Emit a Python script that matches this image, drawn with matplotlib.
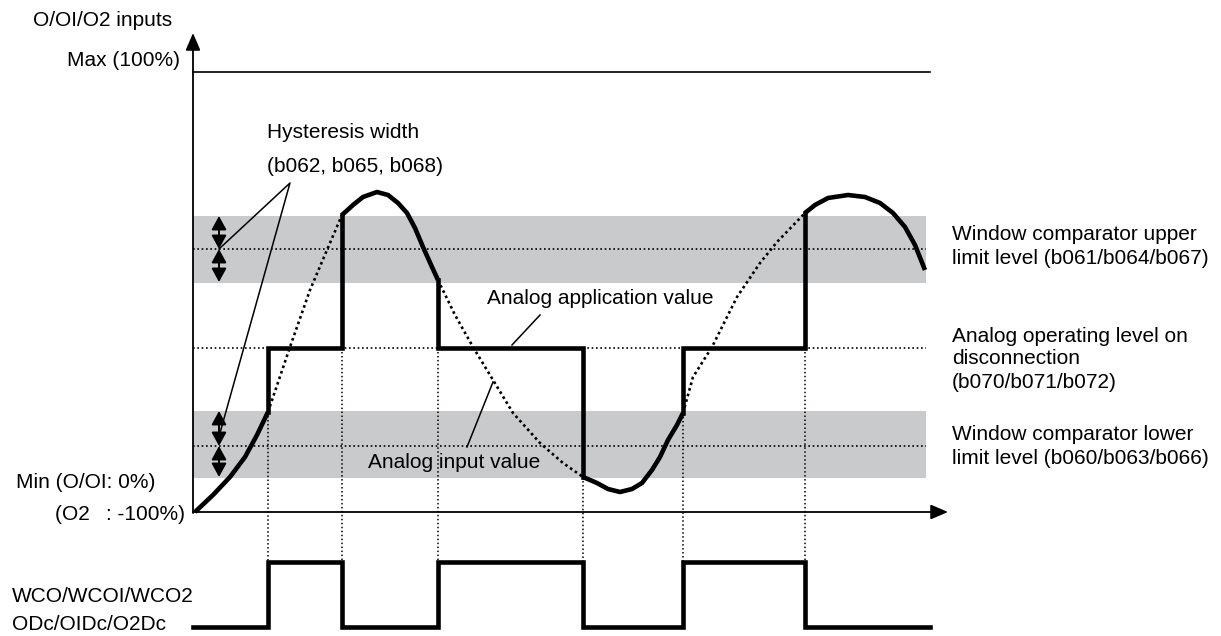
import numpy as np
import matplotlib
matplotlib.use('Agg')
from matplotlib import pyplot as plt

plt.rcParams['font.family'] = ['Liberation Sans', 'DejaVu Sans']

# 그림 좌표 = 픽셀 좌표 (y 아래로 증가)
# analog input value
input_x = [195, 213, 230, 245, 257, 268, 290, 310, 327, 342, 353, 363, 377, 388, 398, 407,
           415, 423, 432, 438, 455, 473, 493, 513, 540, 563, 583, 597, 608, 620, 632, 642,
           652, 660, 668, 677, 683, 693, 712, 737, 760, 777, 805, 815, 828, 848, 865, 880,
           893, 905, 915, 925]
input_y = [512, 495, 477, 457, 435, 412, 347, 290, 250, 215, 205, 197, 192, 195, 203, 213,
           228, 247, 267, 280, 315, 347, 380, 413, 443, 463, 477, 483, 489, 492, 489, 483,
           470, 457, 440, 425, 413, 377, 347, 297, 263, 242, 213, 205, 198, 195, 197, 203,
           213, 227, 245, 270]

# switching points of the window comparator (start, end of hold)
hold_start = [268, 438, 683]
hold_end = [342, 583, 805]

# levels
max_level = 72
upper_band = (216, 283)
upper_level = 249
hold_level = 348
lower_band = (411, 478)
lower_level = 446
zero_level = 512

x0, x_end, x_arrow = 193, 926, 948
pulse_low, pulse_high = 627, 562

GRAY = '#c9cacc'
THICK = 3.3
fs = 15

fig = plt.figure(figsize=(12.21, 6.36), dpi=100)
ax = fig.add_axes([0, 0, 1, 1])
ax.set_xlim(0, 1221)
ax.set_ylim(636, 0)
ax.axis('off')

xs = np.array(input_x)
ys = np.array(input_y)

# bands
for b in (upper_band, lower_band):
    ax.fill_between([x0, x_end], b[0], b[1], color=GRAY, lw=0, zorder=0)

dot = (0, (1, 1.6))
for lv in (upper_level, hold_level, lower_level):
    ax.plot([x0, x_end], [lv, lv], color='k', lw=1.2, linestyle=dot, zorder=1)

# max line
ax.plot([x0, 930], [max_level, max_level], color='k', lw=1.2)

# axes
ax.annotate('', xy=(x0, 33), xytext=(x0, zero_level + 1),
            arrowprops=dict(arrowstyle='-|>,head_length=0.7,head_width=0.3', color='k',
                            lw=1.3, shrinkA=0, shrinkB=0, mutation_scale=15))
ax.annotate('', xy=(x_arrow, zero_level), xytext=(x0, zero_level),
            arrowprops=dict(arrowstyle='-|>,head_length=0.7,head_width=0.3', color='k',
                            lw=1.3, shrinkA=0, shrinkB=0, mutation_scale=15))

# input (dotted) parts
for a, b in zip(hold_start, hold_end):
    m = (xs >= a) & (xs <= b)
    ax.plot(xs[m], ys[m], color='k', lw=1.9, linestyle=(0, (1, 1.2)), zorder=2)

# application value (thick)
edges = [xs[0]] + [v for pair in zip(hold_start, hold_end) for v in pair] + [xs[-1]]
for i in range(0, len(edges), 2):
    m = (xs >= edges[i]) & (xs <= edges[i + 1])
    ax.plot(xs[m], ys[m], color='k', lw=THICK, solid_capstyle='butt',
            solid_joinstyle='round', zorder=3)
for a, b in zip(hold_start, hold_end):
    ya = ys[xs == a][0]
    yb = ys[xs == b][0]
    ax.plot([a, a, b, b], [ya, hold_level, hold_level, yb], color='k', lw=THICK,
            solid_joinstyle='miter', zorder=3)

# vertical connectors to WCO output
for xv in hold_start + hold_end:
    yv = max(ys[xs == xv][0], hold_level)
    ax.plot([xv, xv], [yv, pulse_high], color='k', lw=1.1, linestyle=(0, (1, 1.6)), zorder=1)

# WCO output pulses
px = [x0]
py = [pulse_low]
for a, b in zip(hold_start, hold_end):
    px += [a, a, b, b]
    py += [pulse_low, pulse_high, pulse_high, pulse_low]
px.append(930)
py.append(pulse_low)
ax.plot(px, py, color='k', lw=THICK, solid_joinstyle='miter')

# hysteresis arrows
arr = dict(arrowstyle='<|-|>,head_length=0.55,head_width=0.3', color='k', lw=1.4,
           shrinkA=0, shrinkB=0, mutation_scale=15)
for lv, b in ((upper_level, upper_band), (lower_level, lower_band)):
    ax.annotate('', xy=(219, b[0]), xytext=(219, lv), arrowprops=arr)
    ax.annotate('', xy=(219, lv), xytext=(219, b[1] - 1), arrowprops=arr)

# leader lines
ax.plot([219, 290, 218], [249, 183, 440], color='k', lw=1.1)
ax.plot([540, 512], [315, 345], color='k', lw=1.1)
ax.plot([493, 467], [382, 447], color='k', lw=1.1)

# texts
ax.text(33, 20, 'O/OI/O2 inputs', fontsize=fs, va='center', ha='left')
ax.text(180, 61, 'Max (100%)', fontsize=fs, va='center', ha='right')
ax.text(155, 482, 'Min (O/OI: 0%)', fontsize=fs, va='center', ha='right')
ax.text(185, 514, '(O2\u2002 : -100%)', fontsize=fs, va='center', ha='right')
ax.text(12, 596, 'WCO/WCOI/WCO2', fontsize=fs, va='center', ha='left')
ax.text(12, 625, 'ODc/OIDc/O2Dc', fontsize=fs, va='center', ha='left')
ax.text(267, 133, 'Hysteresis width', fontsize=fs, va='center', ha='left')
ax.text(267, 167, '(b062, b065, b068)', fontsize=fs, va='center', ha='left')
ax.text(487, 298, 'Analog application value', fontsize=fs, va='center', ha='left')
ax.text(368, 463, 'Analog input value', fontsize=fs, va='center', ha='left')

right = [(235, 'Window comparator upper'), (258, 'limit level (b061/b064/b067)'),
         (337, 'Analog operating level on'), (358, 'disconnection'), (382, '(b070/b071/b072)'),
         (435, 'Window comparator lower'), (458, 'limit level (b060/b063/b066)')]
for y, t in right:
    ax.text(952, y, t, fontsize=fs, va='center', ha='left')

fig.savefig('out.png', dpi=100)
